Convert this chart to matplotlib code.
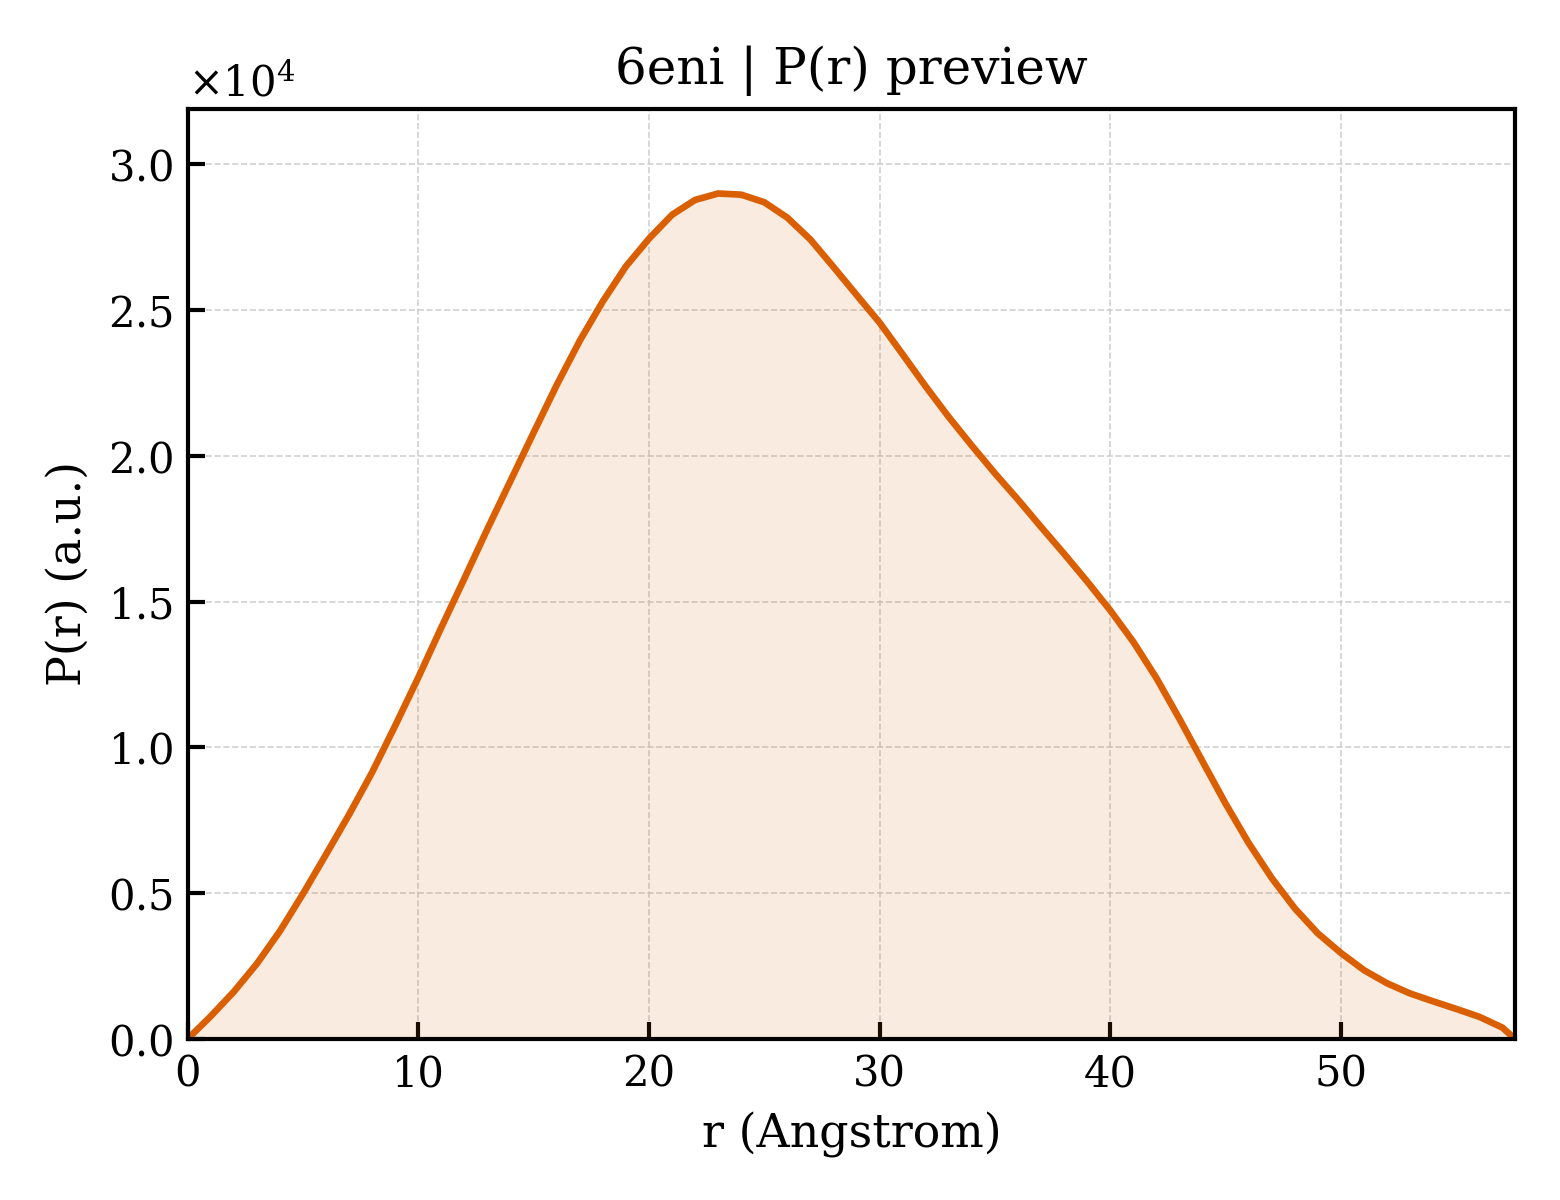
import matplotlib
matplotlib.use("Agg")
import matplotlib.pyplot as plt
from matplotlib.ticker import ScalarFormatter

plt.rcParams['font.family'] = ['DejaVu Serif']
plt.rcParams['mathtext.fontset'] = 'dejavuserif'

title = "6eni | P(r) preview"
xlabel = "r (Angstrom)"
ylabel = "P(r) (a.u.)"

r_values = [0, 1, 2, 3, 4, 5, 6, 7, 8, 9, 10, 11, 12, 13, 14, 15, 16, 17, 18, 19,
            20, 21, 22, 23, 24, 25, 26, 27, 28, 29, 30, 31, 32, 33, 34, 35, 36, 37, 38, 39,
            40, 41, 42, 43, 44, 45, 46, 47, 48, 49, 50, 51, 52, 53, 54, 55, 56, 57, 57.55]
pr_values = [0, 780, 1620, 2580, 3700, 4980, 6330, 7700, 9150, 10750, 12400, 14120, 15800,
             17500, 19150, 20800, 22430, 23950, 25300, 26500, 27450, 28270, 28780, 29000,
             28960, 28700, 28170, 27420, 26480, 25520, 24570, 23480, 22380, 21330, 20350,
             19400, 18500, 17560, 16640, 15690, 14700, 13620, 12380, 10980, 9520, 8070,
             6720, 5520, 4480, 3620, 2950, 2360, 1910, 1560, 1290, 1030, 760, 390, 0]

line_color = "#D95F02"

fig = plt.figure(figsize=(5.2, 4.0), dpi=300)
ax = fig.add_subplot(111)
fig.subplots_adjust(left=0.1203, right=0.9712, bottom=0.1342, top=0.9092)

ax.fill_between(r_values, pr_values, 0, color=line_color, alpha=0.12, linewidth=0)
ax.plot(r_values, pr_values, color=line_color, linewidth=1.6)

ax.set_xlim(0, max(r_values))
ax.set_ylim(0, 1.1 * max(pr_values))

ax.set_title(title, fontsize=12)
ax.set_xlabel(xlabel, fontsize=11)
ax.set_ylabel(ylabel, fontsize=11)

fmt = ScalarFormatter(useMathText=True)
fmt.set_powerlimits((0, 0))
ax.yaxis.set_major_formatter(fmt)
ax.yaxis.get_offset_text().set_fontsize(10)

ax.tick_params(direction='in', labelsize=10, width=1.0, length=4, top=False, right=False)
for sp in ax.spines.values():
    sp.set_linewidth(1.0)

ax.grid(True, linestyle='--', linewidth=0.4, color='#cccccc', alpha=0.9)
ax.set_axisbelow(True)

fig.savefig("out.png", dpi=300)
